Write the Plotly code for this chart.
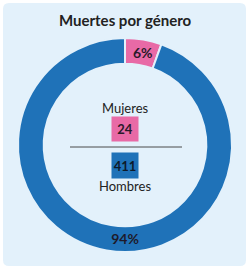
import math
import plotly.graph_objects as go

# ---- data ----
title_text = "Muertes por género"
categories = ["Mujeres", "Hombres"]
values = [24, 411]
colors = ["#e86aa6", "#1f72b8"]

W, H = 250, 273
total = sum(values)
pct_labels = [f"{round(v / total * 100)}%" for v in values]

def px(x):
    return x / W

def py(y):
    return 1 - y / H

# pie geometry (pixels)
CX, CY, R_OUT, HOLE = 125, 145, 107, 0.76
R_MID = R_OUT * (1 + HOLE) / 2

# small slices get their label as annotation (plotly would shrink it)
pie_text = [lbl if v / total > 0.1 else "" for lbl, v in zip(pct_labels, values)]

fig = go.Figure()

fig.add_trace(go.Pie(
    labels=categories,
    values=values,
    text=pie_text,
    textinfo="text",
    texttemplate="%{text}",
    textposition="inside",
    insidetextorientation="horizontal",
    textfont=dict(family="Lato", size=14, color="#1e1a2a", weight="bold"),
    marker=dict(colors=colors, line=dict(color="#e3f1fb", width=2)),
    hole=HOLE,
    sort=False,
    direction="clockwise",
    rotation=0,
    showlegend=False,
    hoverinfo="label+value+percent",
    domain=dict(x=[px(CX - R_OUT), px(CX + R_OUT)], y=[py(CY + R_OUT), py(CY - R_OUT)]),
))

# rounded light-blue panel
x0, x1, y0, y1, r = 3, 246, 3, 266, 6
path = (
    f"M {px(x0 + r)} {py(y0)} L {px(x1 - r)} {py(y0)} "
    f"Q {px(x1)} {py(y0)} {px(x1)} {py(y0 + r)} "
    f"L {px(x1)} {py(y1 - r)} Q {px(x1)} {py(y1)} {px(x1 - r)} {py(y1)} "
    f"L {px(x0 + r)} {py(y1)} Q {px(x0)} {py(y1)} {px(x0)} {py(y1 - r)} "
    f"L {px(x0)} {py(y0 + r)} Q {px(x0)} {py(y0)} {px(x0 + r)} {py(y0)} Z"
)

shapes = [
    dict(type="path", xref="paper", yref="paper", path=path,
         fillcolor="#e3f1fb", line=dict(width=0), layer="below"),
    dict(type="line", xref="paper", yref="paper",
         x0=px(70), x1=px(182), y0=py(147), y1=py(147),
         line=dict(color="#4a4a4a", width=1)),
]

font_fam = "Lato"
annotations = [
    dict(text=f"<b>{title_text}</b>", x=0.5, y=py(20), xref="paper", yref="paper",
         showarrow=False, font=dict(family=font_fam, size=15, color="#222222"),
         xanchor="center", yanchor="middle"),
    dict(text=categories[0], x=0.5, y=py(108), xref="paper", yref="paper",
         showarrow=False, font=dict(family=font_fam, size=13, color="#222222"),
         xanchor="center", yanchor="middle"),
    dict(text=f"<b>{values[0]}</b>", x=0.5, y=py(129), xref="paper", yref="paper",
         showarrow=False, font=dict(family=font_fam, size=13, color="#2a1a2a"),
         bgcolor=colors[0], width=26, height=24, borderpad=0,
         xanchor="center", yanchor="middle"),
    dict(text=f"<b>{values[1]}</b>", x=0.5, y=py(165.5), xref="paper", yref="paper",
         showarrow=False, font=dict(family=font_fam, size=13, color="#0d1a2a"),
         bgcolor=colors[1], width=26, height=25, borderpad=0,
         xanchor="center", yanchor="middle"),
    dict(text=categories[1], x=0.5, y=py(186), xref="paper", yref="paper",
         showarrow=False, font=dict(family=font_fam, size=13, color="#222222"),
         xanchor="center", yanchor="middle"),
]

# labels for small slices at slice centroid (clockwise from 12 o'clock)
cum = 0
for lbl, v, t in zip(pct_labels, values, pie_text):
    mid = (cum + v / 2) / total * 2 * math.pi
    cum += v
    if t == "":
        annotations.append(dict(
            text=f"<b>{lbl}</b>", xref="paper", yref="paper",
            x=px(CX + R_MID * math.sin(mid) + 2), y=py(CY - R_MID * math.cos(mid)),
            showarrow=False, font=dict(family=font_fam, size=14, color="#2a1a2a"),
            xanchor="center", yanchor="middle"))

fig.update_layout(
    width=W, height=H,
    margin=dict(l=0, r=0, t=0, b=0),
    paper_bgcolor="#ffffff",
    plot_bgcolor="#ffffff",
    shapes=shapes,
    annotations=annotations,
)

fig.write_html("out.html")
